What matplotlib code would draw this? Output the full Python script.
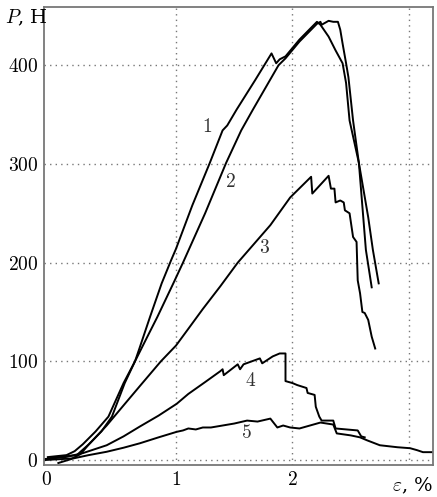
import matplotlib
matplotlib.use("Agg")
import matplotlib.pyplot as plt

plt.rcParams['mathtext.fontset'] = 'cm'
plt.rcParams['font.family'] = ['DejaVu Serif']

# curve 1 (goes down right after the peak)
x1 = [-0.01, 0.10, 0.18, 0.26, 0.36, 0.45, 0.56, 0.648, 0.68, 0.777, 0.877, 0.96, 1.00, 1.14,
      1.29, 1.40, 1.44, 1.52, 1.68, 1.82, 1.86, 1.89,
      1.94, 2.06, 2.21, 2.24, 2.31, 2.37, 2.43, 2.46, 2.49, 2.57, 2.63, 2.68]
y1 = [-3, 1, 6, 17, 29, 44, 78, 100, 111, 145, 179, 203, 214, 258,
      301, 334, 339, 355, 385, 412, 402, 406,
      409, 426, 444, 441, 429, 415, 402, 382, 344, 301, 213, 175]

# curve 2 (plateau at the top, then drop)
x2 = [-0.10, 0.06, 0.13, 0.20, 0.31, 0.42, 0.55, 0.648, 0.75, 0.84, 0.977, 1.06, 1.25, 1.43, 1.56,
      1.66, 1.88, 1.94, 2.06, 2.21,
      2.24, 2.25, 2.28, 2.31, 2.35, 2.39, 2.41, 2.43, 2.46, 2.48, 2.52, 2.57, 2.65, 2.69, 2.74]
y2 = [3, 5, 9, 16, 29, 44, 78, 100, 124, 145, 179, 200, 250, 301, 334,
      355, 400, 407, 424, 442,
      444, 441, 443, 445, 444, 444, 436, 422, 402, 388, 344, 301, 246, 213, 179]

x3 = [-0.08, 0.148, 0.262, 0.405, 0.54, 0.69, 0.87, 1.00, 1.106, 1.23, 1.38, 1.53, 1.81,
      1.98, 2.16, 2.17, 2.31, 2.33,
      2.36, 2.37, 2.41, 2.44, 2.45, 2.49, 2.52, 2.55, 2.56, 2.58, 2.60, 2.62, 2.65, 2.68, 2.71]
y3 = [2, 5, 17, 35, 54, 75, 100, 116, 133, 153, 176, 200, 238,
      266, 287, 270, 288, 275,
      275, 261, 263, 261, 253, 250, 226, 221, 182, 169, 150, 149, 142, 125, 113]

x4 = [-0.13, 0.05, 0.20, 0.405, 0.55, 0.69, 0.85, 1.006, 1.106, 1.25, 1.38, 1.40, 1.41, 1.53,
      1.55, 1.58, 1.72, 1.74, 1.83, 1.89,
      1.94, 1.94, 2.00, 2.04, 2.12, 2.13, 2.19, 2.20, 2.23, 2.25, 2.35, 2.37, 2.56, 2.59, 2.62]
y4 = [1, 3, 7, 15, 24, 34, 45, 57, 67, 79, 90, 92, 86, 97,
      92, 97, 103, 98, 105, 108,
      108, 80, 78, 76, 73, 68, 66, 54, 44, 40, 40, 32, 30, 24, 23]

x5 = [-0.13, 0.12, 0.25, 0.405, 0.55, 0.69, 0.85, 1.006, 1.06, 1.106, 1.17, 1.23, 1.30, 1.40,
      1.50, 1.61, 1.70, 1.81,
      1.87, 1.92, 1.98, 2.06, 2.15, 2.24, 2.35, 2.38, 2.50, 2.58, 2.64, 2.75, 2.90, 3.01, 3.07,
      3.12, 3.21]
y5 = [0, 1.7, 5, 8.4, 12.5, 17, 23, 28.6, 30, 32, 31, 33, 33, 35,
      37, 40, 39, 42,
      33, 35, 33, 32, 35, 38, 36, 27, 25, 23, 20, 15, 13, 12, 10,
      8, 8]

labels = ['1', '2', '3', '4', '5']
label_x = [1.27, 1.47, 1.76, 1.64, 1.60]
label_y = [337, 282, 215, 80, 27]

fig = plt.figure(figsize=(4.37, 4.97), dpi=100)
ax = fig.add_axes([0.1007, 0.0644, 0.8901, 0.9215])

for xs, ys in [(x1, y1), (x2, y2), (x3, y3), (x4, y4), (x5, y5)]:
    ax.plot(xs, ys, color='black', lw=1.4, solid_joinstyle='round')

for lab, lx, ly in zip(labels, label_x, label_y):
    ax.text(lx, ly, '$' + lab + '$', fontsize=14, ha='center', va='center', color='#333333')

# dotted grid
for gx in [1, 2, 3]:
    ax.axvline(gx, color='#777777', lw=1, ls=(0, (1, 3)), zorder=0)
for gy in [0, 100, 200, 300, 400]:
    ax.axhline(gy, color='#777777', lw=1, ls=(0, (1, 3)), zorder=0)

ax.set_xlim(-0.133, 3.206)
ax.set_ylim(-5, 459)

ax.set_xticks([-0.115, 1, 2])
ax.set_xticklabels(['$0$', '$1$', '$2$'], fontsize=14)
ax.set_yticks([0, 100, 200, 300, 400])
ax.set_yticklabels(['$0$', '$100$', '$200$', '$300$', '$400$'], fontsize=14)
ax.tick_params(length=0, pad=4)

for s in ax.spines.values():
    s.set_color('#777777')
    s.set_linewidth(1.3)

fig.text(0.012, 0.965, '$P$, Н', fontsize=14, ha='left', va='center')
fig.text(0.99, 0.022, r'$\varepsilon$, %', fontsize=14, ha='right', va='center')

fig.savefig('out.png', dpi=100)
